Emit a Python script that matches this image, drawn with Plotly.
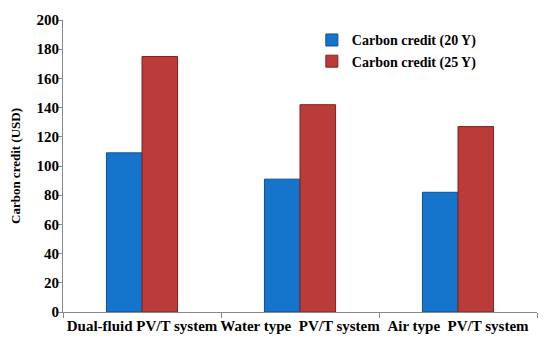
import plotly.graph_objects as go

categories = ["Dual-fluid PV/T system", "Water type  PV/T system", "Air type  PV/T system"]
credit_20y = [109, 91, 82]
credit_25y = [175, 142, 127]
series_names = ["Carbon credit (20 Y)", "Carbon credit (25 Y)"]
y_ticks = [0, 20, 40, 60, 80, 100, 120, 140, 160, 180, 200]

font_family = "Liberation Serif"

fig = go.Figure()
fig.add_trace(go.Bar(
    x=categories, y=credit_20y, name=series_names[0],
    marker=dict(color="#1575cc", line=dict(color="#0b4f8f", width=1)),
))
fig.add_trace(go.Bar(
    x=categories, y=credit_25y, name=series_names[1],
    marker=dict(color="#bb3b39", line=dict(color="#7e2422", width=1)),
))

fig.update_layout(
    width=542, height=335,
    margin=dict(l=55, r=13, t=12, b=31, autoexpand=False),
    paper_bgcolor="white", plot_bgcolor="white",
    barmode="group", bargap=0.55, bargroupgap=0,
    font=dict(family=font_family, color="black", size=14),
    showlegend=True,
    legend=dict(
        x=0.525, y=0.985, xanchor="left", yanchor="top",
        bgcolor="rgba(0,0,0,0)",
        font=dict(family=font_family, size=14, color="black", weight="bold"),
        itemwidth=30, tracegroupgap=4,
    ),
)
fig.update_xaxes(
    showline=True, linecolor="#888888", linewidth=1,
    ticks="outside", tickson="boundaries", ticklen=5, tickcolor="#888888",
    tickangle=0, automargin=False,
    tickfont=dict(family=font_family, size=15, color="black", weight="bold"),
    showgrid=False,
)
fig.update_yaxes(
    range=[0, 200], tickvals=y_ticks, automargin=False,
    showline=True, linecolor="#888888", linewidth=1,
    ticks="outside", ticklen=4, tickcolor="#888888",
    ticklabelstandoff=-4,
    tickfont=dict(family=font_family, size=15, color="black", weight="bold"),
    showgrid=False, zeroline=False,
    title=dict(text="Carbon credit (USD)", standoff=14,
               font=dict(family=font_family, size=13, color="black", weight="bold")),
)

fig.write_html("out.html")
